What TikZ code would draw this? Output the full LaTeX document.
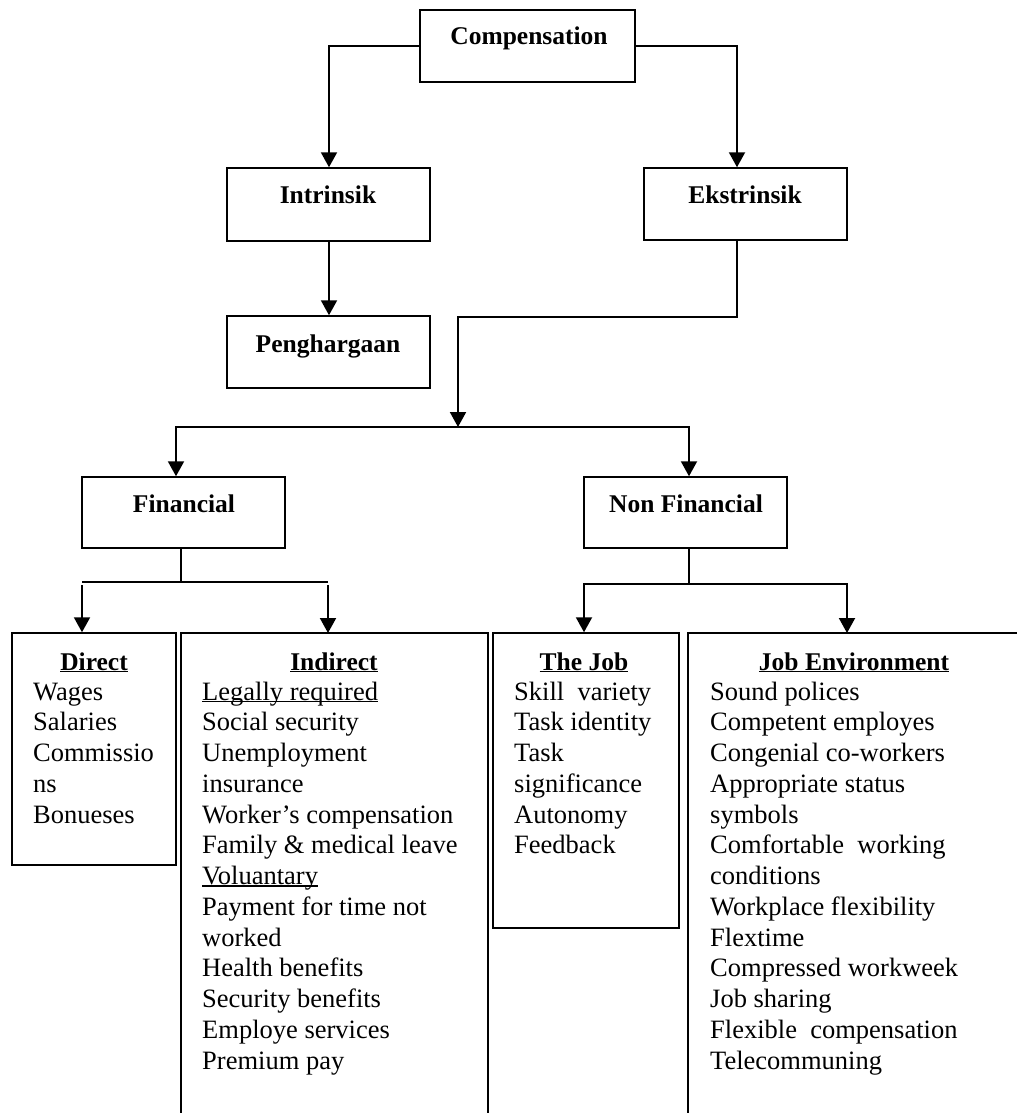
\documentclass[tikz,border=0pt]{standalone}
\usepackage{fontspec}
\setmainfont{Liberation Serif}
\usetikzlibrary{arrows.meta,calc}
\newcommand{\myul}[1]{\setbox0\hbox{#1}\rlap{\rule[-2.2pt]{\wd0}{1.4pt}}\box0}
\tikzset{
 boxn/.style={draw, line width=1.5pt, inner sep=0pt, rectangle},
 ttl/.style={font=\fontsize{25.5}{30}\selectfont\bfseries, inner sep=0pt, anchor=base},
 itm/.style={font=\fontsize{26.5}{30.75}\selectfont, inner sep=0pt, anchor=base west},
 arr/.style={line width=2pt, -{Triangle[width=16pt,length=15pt]}},
 con/.style={line width=2pt},
 panel/.style={line width=1.5pt},
}
\begin{document}
\begin{tikzpicture}[x=1pt,y=-1pt]
\useasboundingbox (0,0) rectangle (1017,1113);

% ---- boxes ----
\node[boxn, minimum width=215pt, minimum height=72pt] (comp) at (527.5,46) {};
\node[boxn, minimum width=203pt, minimum height=73pt] (intr) at (328.5,204.5) {};
\node[boxn, minimum width=203pt, minimum height=72pt] (ekst) at (745.5,204) {};
\node[boxn, minimum width=203pt, minimum height=72pt] (pegh) at (328.5,352) {};
\node[boxn, minimum width=203pt, minimum height=71pt] (fin) at (183.5,512.5) {};
\node[boxn, minimum width=203pt, minimum height=71pt] (nonf) at (685.5,512.5) {};
\node[boxn, minimum width=164pt, minimum height=232pt] (direct) at (94,749) {};
\node[boxn, minimum width=186pt, minimum height=295pt] (thejob) at (586,780.5) {};

% open panels
\coordinate (indSW) at (181,1113);
\coordinate (indNW) at (181,633);
\coordinate (indNE) at (488,633);
\coordinate (indSE) at (488,1113);
\draw[panel] (indSW) -- (indNW) -- (indNE) -- (indSE);
\coordinate (envSW) at (688,1113);
\coordinate (envNW) at (688,633);
\coordinate (envNE) at (1017,633);
\draw[panel] (envSW) -- (envNW) -- (envNE);

% ---- titles ----
\node[ttl] (compT) at (529,45) {Compensation};
\node[ttl] (intrT) at (328,203) {Intrinsik};
\node[ttl] (ekstT) at (745,203) {Ekstrinsik};
\node[ttl] (peghT) at (328,352) {Penghargaan};
\node[ttl] (finT) at (184,512) {Financial};
\node[ttl] (nonfT) at (686,512) {Non Financial};

\node[ttl] (directT) at (94,670) {\myul{Direct}};
\node[ttl] (indT) at (334,670) {\myul{Indirect}};
\node[ttl] (jobT) at (584,670) {\myul{The Job}};
\node[ttl] (envT) at (854,670) {\myul{Job Environment}};

% ---- lists ----
\foreach \t [count=\i] in {Wages, Salaries, Commissio, ns, Bonueses}
  \node[itm] (dir\i) at (33,{700+30.75*(\i-1)}) {\t};
\foreach \t [count=\i] in {{\myul{Legally required}}, Social security, Unemployment, insurance, Worker’s compensation, Family \& medical leave, {\myul{Voluantary}}, Payment for time not, worked, Health benefits, Security benefits, Employe services, Premium pay}
  \node[itm] (ind\i) at (202,{700+30.75*(\i-1)}) {\t};
\foreach \t [count=\i] in {Skill\ \ variety, Task identity, Task, significance, Autonomy, Feedback}
  \node[itm] (job\i) at (514,{700+30.75*(\i-1)}) {\t};
\foreach \t [count=\i] in {Sound polices, Competent employes, Congenial co-workers, Appropriate status, symbols, Comfortable\ \ working, conditions, Workplace flexibility, Flextime, Compressed workweek, Job sharing, Flexible\ \ compensation, Telecommuning}
  \node[itm] (env\i) at (710,{700+30.75*(\i-1)}) {\t};

% ---- connectors ----
\coordinate (c1) at (329,46);
\coordinate (c2) at (737,46);
\draw[arr] (comp.west) -- (c1) -- (c1 |- intr.north);
\draw[arr] (comp.east) -- (c2) -- (c2 |- ekst.north);
\draw[arr] (c1 |- intr.south) -- (c1 |- pegh.north);

\coordinate (e1) at (737,317);
\coordinate (e2) at (458,317);
\coordinate (h0) at (458,427);
\draw[arr] (e1 |- ekst.south) -- (e1) -- (e2) -- (h0);

\coordinate (hl) at (176,427);
\coordinate (hr) at (689,427);
\draw[arr] (hr) -- (hl) -- (hl |- fin.north);
\draw[arr] (hl) -- (hr) -- (hr |- nonf.north);

\coordinate (f0) at (181,582);
\coordinate (fl) at (82,582);
\coordinate (fr) at (328,582);
\draw[con] (f0 |- fin.south) -- (f0);
\draw[con] (fl) -- (fr);
\draw[arr] ($(fl)+(0,3)$) -- (fl |- direct.north);
\draw[arr] ($(fr)+(0,3)$) -- (fr |- indNW);

\coordinate (n0) at (689,584);
\coordinate (nl) at (584,584);
\coordinate (nr) at (847,584);
\draw[con] (n0 |- nonf.south) -- (n0);
\draw[arr] (n0) -- (nl) -- (nl |- thejob.north);
\draw[arr] (n0) -- (nr) -- (nr |- envNW);
\end{tikzpicture}
\end{document}
